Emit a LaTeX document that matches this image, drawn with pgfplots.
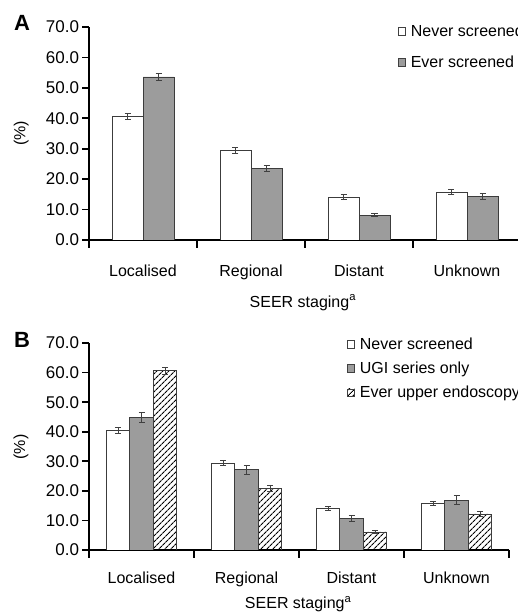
\documentclass[border=0pt]{standalone}
\usepackage{pgfplots}
\pgfplotsset{compat=1.18}
\usepackage{fontspec}
\setmainfont{Liberation Sans}
\usetikzlibrary{patterns.meta}
\definecolor{bargray}{RGB}{156,156,156}
\definecolor{edge}{RGB}{60,60,60}
\newcommand{\ff}{\fontsize{16}{19}\selectfont}
\newcommand{\fy}{\fontsize{17}{19}\selectfont}
\pgfplotsset{
  common/.style={
    scale only axis,
    xmin=0, xmax=4, ymin=0, ymax=70,
    axis x line*=bottom, axis y line*=left,
    axis line style={-, line width=1.6pt, black},
    ytick={0,10,20,30,40,50,60,70},
    yticklabels={0.0,10.0,20.0,30.0,40.0,50.0,60.0,70.0},
    xtick={0.5,1.5,2.5,3.5},
    xticklabels={Localised,Regional,Distant,Unknown},
    major x tick style={draw=none},
    tick align=outside,
    major tick length=6.5pt,
    major y tick style={draw=black, line width=1.6pt},
    x tick label style={font=\ff},
    y tick label style={font=\fy},
    label style={font=\ff},
    ylabel={(\%)},
    xlabel={SEER staging\textsuperscript{a}},
    ybar,
    error bars/y dir=both, error bars/y explicit,
    error bars/error bar style={line width=0.8pt, black!75},
    error bars/error mark options={rotate=90, mark size=3pt, line width=0.8pt, black!75},
    legend style={draw=none, fill=none, anchor=north west, font=\ff, legend cell align=left, column sep=3pt},
    legend image code/.code={\draw[#1, draw=black!75, line width=0.6pt] (0pt,-3.8pt) rectangle (7.6pt,3.8pt);},
    after end axis/.code={
      \foreach \xx in {0,1,2,3,4} {\draw[black, line width=1.8pt] (axis cs:\xx,0) -- ++(0pt,-8pt);}
    },
  },
  whitebar/.style={fill=white, draw=edge, line width=0.8pt},
  graybar/.style={fill=bargray, draw=edge, line width=0.8pt},
  hatchbar/.style={pattern={Lines[angle=45,distance=4pt,line width=1.1pt]}, draw=edge, line width=0.8pt},
}
\begin{document}
\begin{tikzpicture}
\path[use as bounding box] (0,0) rectangle (518pt,613pt);
% Panel A
\begin{axis}[common,
  at={(89pt,373pt)}, anchor=south west,
  width=432pt, height=213pt,
  xticklabel style={anchor=base, yshift=-30pt},
  ylabel style={at={(axis description cs:-0.157,0.5)}, anchor=center},
  xlabel style={at={(axis description cs:0.495,-0.315)}, anchor=base},
  legend style={at={(axis description cs:0.707,1.03)}, row sep=14pt},
]
\addplot+[whitebar, bar width=31pt, bar shift=-15.5pt, mark=none] coordinates {
  (0.5,40.5) +- (0,1.0)
  (1.5,29.4) +- (0,0.9)
  (2.5,14.1) +- (0,0.8)
  (3.5,15.8) +- (0,0.8)
};
\addplot+[graybar, bar width=31pt, bar shift=15.5pt, mark=none] coordinates {
  (0.5,53.6) +- (0,1.2)
  (1.5,23.5) +- (0,1.1)
  (2.5,8.2) +- (0,0.6)
  (3.5,14.3) +- (0,0.9)
};
\legend{Never screened, Ever screened}
\end{axis}
% Panel B
\begin{axis}[common,
  at={(89pt,63pt)}, anchor=south west,
  width=420pt, height=207pt,
  xticklabel style={anchor=base, yshift=-27pt},
  ylabel style={at={(axis description cs:-0.162,0.498)}, anchor=center},
  xlabel style={at={(axis description cs:0.498,-0.285)}, anchor=base},
  legend style={at={(axis description cs:0.606,1.045)}, row sep=7pt},
]
\addplot+[whitebar, bar width=23.5pt, bar shift=-23.5pt, mark=none] coordinates {
  (0.5,40.4) +- (0,1.0)
  (1.5,29.4) +- (0,0.9)
  (2.5,14.1) +- (0,0.7)
  (3.5,15.8) +- (0,0.8)
};
\addplot+[graybar, bar width=23.5pt, bar shift=0pt, mark=none] coordinates {
  (0.5,44.9) +- (0,1.6)
  (1.5,27.1) +- (0,1.6)
  (2.5,10.8) +- (0,1.0)
  (3.5,16.9) +- (0,1.4)
};
\addplot+[hatchbar, bar width=23.5pt, bar shift=23.5pt, mark=none] coordinates {
  (0.5,60.7) +- (0,1.2)
  (1.5,20.9) +- (0,1.1)
  (2.5,6.1) +- (0,0.6)
  (3.5,12.2) +- (0,0.9)
};
\legend{Never screened, UGI series only, Ever upper endoscopy}
\end{axis}
\node[font=\fontsize{22}{24}\selectfont\bfseries] at (22pt,590pt) {A};
\node[font=\fontsize{22}{24}\selectfont\bfseries] at (22pt,273pt) {B};
\end{tikzpicture}
\end{document}
